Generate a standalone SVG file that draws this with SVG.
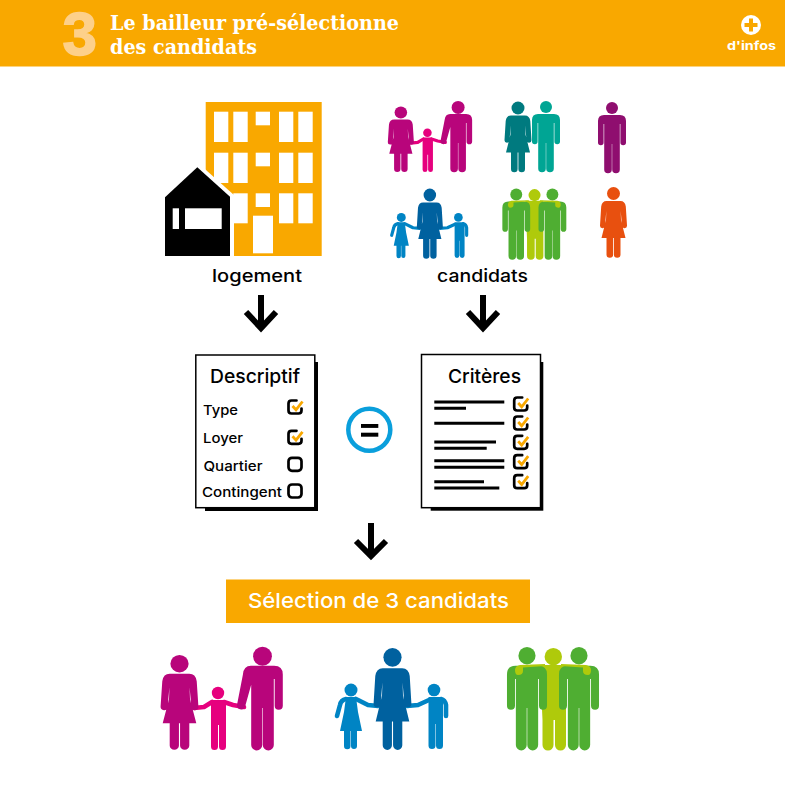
<svg xmlns="http://www.w3.org/2000/svg" xmlns:xlink="http://www.w3.org/1999/xlink" width="785" height="785" viewBox="0 0 785 785">
<style>
text{font-family:"Inter","Liberation Sans",sans-serif;fill:#000}
.slab{font-family:"DejaVu Serif Condensed","DejaVu Serif",serif;font-weight:700;font-size:20px;fill:#fff}
.f{fill:currentColor;stroke:none}
.a{fill:none;stroke:currentColor;stroke-width:4.6;stroke-linecap:round;stroke-linejoin:round}
.arrow{fill:none;stroke:#000;stroke-width:6}
.ln{stroke:#000;stroke-width:3}
.row{font-size:13.5px;font-weight:500}
.title{font-size:19px;font-weight:500}
.lab{font-size:17.5px;font-weight:500}
.w{fill:#fff}
.o{fill:#f9a800}
</style>
<defs>
<g id="m"><circle class="f" cx="0" cy="6" r="6"/><path class="f" d="M-8 13H8Q14 13 14 19V40.5a2.8 2.8 0 0 1-5.6 0V22H7.8V67.5a3.8 3.8 0 0 1-7.6 0V42H-.2V67.5a3.8 3.8 0 0 1-7.6 0V22H-8.4V40.5a2.8 2.8 0 0 1-5.6 0V19Q-14 13-8 13Z"/></g>
<g id="f"><circle class="f" cx="0" cy="6.5" r="6.5"/><path class="f" d="M-7 14H7Q11.5 14 12.3 19.5L13.5 38.5a2.5 2.5 0 0 1-5 .3L7.2 24 7.5 33 12 51H7V67.5a3.3 3.3 0 0 1-6.6 0V51H-.4V67.5a3.3 3.3 0 0 1-6.6 0V51H-12L-7.5 33-7.2 24-8.5 38.8a2.5 2.5 0 0 1-5-.3L-12.3 19.5Q-11.5 14-7 14Z"/></g>
<g id="fam1">
<g color="#e6007e"><circle class="f" cx="218" cy="693" r="6.2"/><path class="f" d="M212 700H224Q226 700 226 704V746.5a3.5 3.5 0 0 1-7 0V725H218V746.5a3.5 3.5 0 0 1-7 0V704Q211 700 212 700Z"/><path class="a" d="M194 708L204 707 212 702M224 702L233 705 244 707"/></g>
<g color="#b8057b"><use xlink:href="#f" href="#f" transform="translate(179.5 655) scale(1.4 1.34)"/>
<g transform="translate(262.5 647) scale(1.45)"><circle class="f" cx="0" cy="6.4" r="6.5"/><path class="f" d="M-8 13H8Q14 13 14 19V40.5a2.8 2.8 0 0 1-5.6 0V22H7.8V67.5a3.8 3.8 0 0 1-7.6 0V42H-.2V67.5a3.8 3.8 0 0 1-7.6 0V26L-12 41a2.8 2.8 0 0 1-5.5-1.5L-13.5 19Q-13 13-8 13Z"/></g></g>
</g>
<g id="fam2">
<g color="#0084c4"><circle class="f" cx="351" cy="690" r="6.5"/><path class="f" d="M346 697H356L358 712 362 731H357V746a3 3 0 0 1-6 0V731H350.500V746a3 3 0 0 1-6.500 0V731H340L344 712Z"/><path class="a" d="M346 699Q341 700 340 705L337 716M356 699L368 705 378 706"/>
<circle class="f" cx="434" cy="690" r="6.3"/><path class="f" d="M429 697H440Q443 697 443 701V745.500a3.500 3.500 0 0 1-7 0V724H435.500V745.500a3.500 3.500 0 0 1-7 0V701Q428 697 429 697Z"/><path class="a" d="M441 699Q445 700 446 705L446 716M429 700L418 705 407 706"/></g>
<g color="#00619f"><use xlink:href="#f" href="#f" transform="translate(392.5 648) scale(1.4 1.44)"/></g>
</g>
<g id="fam3">
<g color="#afca0b"><circle class="f" cx="553.300" cy="656.700" r="8.700"/><path class="f" d="M540 665H566V745a5.500 5.500 0 0 1-11 0V720H553.500V745a5.500 5.500 0 0 1-11 0V720Z"/></g>
<g color="#4fae32"><use xlink:href="#m" href="#m" transform="translate(527 647) scale(1.43 1.45)"/><use xlink:href="#m" href="#m" transform="translate(579 647) scale(1.43 1.45)"/></g>
<path fill="#afca0b" d="M518 675Q515 675 515 670 515 666 520 665L545 664V666L523 667.500V671Q523 675 518 675ZM588 675Q591 675 591 670 591 666 586 665L561 664V666L583 667.500V671Q583 675 588 675Z"/>
</g>
<g id="chk"><path fill="none" stroke="#000" stroke-width="2.700" stroke-linecap="round" d="M1.500 -6.500H-3.500Q-6.500 -6.500 -6.500 -3.500V3.500Q-6.500 6.500 -3.500 6.500H3.500Q6.500 6.500 6.500 3.500V1.500"/><path fill="none" stroke="#f9a800" stroke-width="2.800" d="M-2.500 -1L1 2.800 7.500 -5.500"/></g>
<rect id="box" x="-6.500" y="-6.500" width="13" height="13" rx="3.500" fill="none" stroke="#000" stroke-width="2.700"/>
</defs>

<rect width="785" height="785" fill="#fff"/>

<g id="header">
<rect class="o" width="785" height="66.500"/>
<text x="62.500" y="55" style="font-family:'Liberation Sans',sans-serif;font-weight:700;font-size:62px;fill:#fdd08a;stroke:#fdd08a;stroke-width:1.500">3</text>
<text class="slab" x="110" y="30" textLength="289" lengthAdjust="spacingAndGlyphs">Le bailleur pré-sélectionne</text>
<text class="slab" x="110" y="54" textLength="147" lengthAdjust="spacingAndGlyphs">des candidats</text>
<circle class="w" cx="751" cy="25" r="10"/>
<path class="o" d="M749 18.500H753V23H757.500V27H753V31.500H749V27H744.500V23H749Z"/>
<text x="727" y="50" textLength="49" lengthAdjust="spacingAndGlyphs" style="font-size:12px;font-weight:700;fill:#fff">d'infos</text>
</g>

<g id="logement">
<rect class="o" x="205.700" y="102" width="116" height="154"/>
<g class="w">
<rect x="214" y="111.700" width="14.300" height="30.300"/><rect x="233.300" y="111.700" width="14.400" height="30.300"/><rect x="255.700" y="111.700" width="14.300" height="13.600"/><rect x="279" y="111.700" width="14.300" height="30.300"/><rect x="298.300" y="111.700" width="14.400" height="30.300"/>
<rect x="214" y="152.700" width="14.300" height="30.300"/><rect x="233.300" y="152.700" width="14.400" height="30.300"/><rect x="255.700" y="152.700" width="14.300" height="13.600"/><rect x="279" y="152.700" width="14.300" height="30.300"/><rect x="298.300" y="152.700" width="14.400" height="30.300"/>
<rect x="233.300" y="193.300" width="14.400" height="30"/><rect x="255.700" y="193.300" width="14.300" height="13.700"/><rect x="279" y="193.300" width="14.300" height="30"/><rect x="298.300" y="193.300" width="14.400" height="30"/>
<rect x="253" y="215.700" width="20" height="37.600"/>
<polygon points="197,162 234,195 234,257 160,257 160,197"/>
</g>
<polygon points="197.300,167.300 230,196.700 230,256 165,256 165,197.300" fill="#000"/>
<rect class="w" x="172.700" y="208.300" width="6.300" height="20.700"/>
<rect class="w" x="185" y="208.300" width="36.700" height="20.700"/>
<text class="lab" x="212" y="282" textLength="90" lengthAdjust="spacingAndGlyphs">logement</text>
</g>

<g id="candidats">
<use xlink:href="#fam1" href="#fam1" transform="translate(277 -345.400) scale(.69)"/>
<use xlink:href="#f" href="#f" color="#007a7f" transform="translate(518 101.500)"/>
<use xlink:href="#m" href="#m" color="#00a594" transform="translate(546 101)"/>
<use xlink:href="#m" href="#m" color="#8f0e6f" transform="translate(612 102)"/>
<use xlink:href="#fam2" href="#fam2" transform="translate(159.800 -257.300) scale(.688)"/>
<use xlink:href="#fam3" href="#fam3" transform="translate(150 -258) scale(.695 .69)"/>
<use xlink:href="#f" href="#f" color="#e8500f" transform="translate(613.500 187)"/>
<text class="lab" x="437" y="282" textLength="91" lengthAdjust="spacingAndGlyphs">candidats</text>
</g>

<g id="connectors">
<path class="arrow" d="M261 295V329M246 312L261 328 276 312"/>
<path class="arrow" d="M483 295V329M468 312L483 328 498 312"/>
<path class="arrow" d="M371 523V557M356 541L371 556 386 541"/>
</g>

<g id="descriptif">
<rect x="205" y="362" width="113" height="149" fill="#000"/>
<rect x="195.800" y="355" width="119" height="152.700" fill="#fff" stroke="#000" stroke-width="1.500"/>
<text class="title" x="210" y="383" textLength="90" lengthAdjust="spacingAndGlyphs">Descriptif</text>
<text class="row" x="203" y="415" textLength="35" lengthAdjust="spacingAndGlyphs">Type</text>
<text class="row" x="203" y="443" textLength="40" lengthAdjust="spacingAndGlyphs">Loyer</text>
<text class="row" x="203.500" y="471" textLength="59" lengthAdjust="spacingAndGlyphs">Quartier</text>
<text class="row" x="202" y="497" textLength="80" lengthAdjust="spacingAndGlyphs">Contingent</text>
<use xlink:href="#chk" href="#chk" transform="translate(295 407)"/>
<use xlink:href="#chk" href="#chk" transform="translate(295 437.300)"/>
<use xlink:href="#box" href="#box" transform="translate(295 464.300)"/>
<use xlink:href="#box" href="#box" transform="translate(295 491)"/>
</g>

<g id="egal">
<circle cx="369.300" cy="429.700" r="21" fill="none" stroke="#0a9fdc" stroke-width="4.500"/>
<rect x="361" y="424" width="17.300" height="3.900" fill="#000"/>
<rect x="361" y="432.700" width="17.300" height="4" fill="#000"/>
</g>

<g id="criteres">
<rect x="430.700" y="362" width="112.600" height="148.700" fill="#000"/>
<rect x="421.500" y="354.500" width="119" height="153.200" fill="#fff" stroke="#000" stroke-width="1.500"/>
<text class="title" x="448" y="383" textLength="73" lengthAdjust="spacingAndGlyphs">Critères</text>
<path class="ln" d="M434.300 402H504.300M434.300 408.300H466M434.300 423.300H504.300M434.300 442H496M434.300 448.300H486.700M434.300 460.700H504.300M434.300 467.300H504.300M434.300 481.700H484M434.300 488H499.300"/>
<use xlink:href="#chk" href="#chk" transform="translate(520.700 404)"/>
<use xlink:href="#chk" href="#chk" transform="translate(520.700 423)"/>
<use xlink:href="#chk" href="#chk" transform="translate(520.700 442.300)"/>
<use xlink:href="#chk" href="#chk" transform="translate(520.700 461.700)"/>
<use xlink:href="#chk" href="#chk" transform="translate(520.700 481.700)"/>
</g>

<g id="selection">
<rect class="o" x="226" y="579.500" width="304" height="43.500"/>
<text x="248" y="608" textLength="261" lengthAdjust="spacingAndGlyphs" style="font-size:20.500px;font-weight:500;fill:#fff">Sélection de 3 candidats</text>
</g>

<g id="selection-famille-1"><use xlink:href="#fam1" href="#fam1"/></g>
<g id="selection-famille-2"><use xlink:href="#fam2" href="#fam2"/></g>
<g id="selection-groupe-3"><use xlink:href="#fam3" href="#fam3"/></g>
</svg>
